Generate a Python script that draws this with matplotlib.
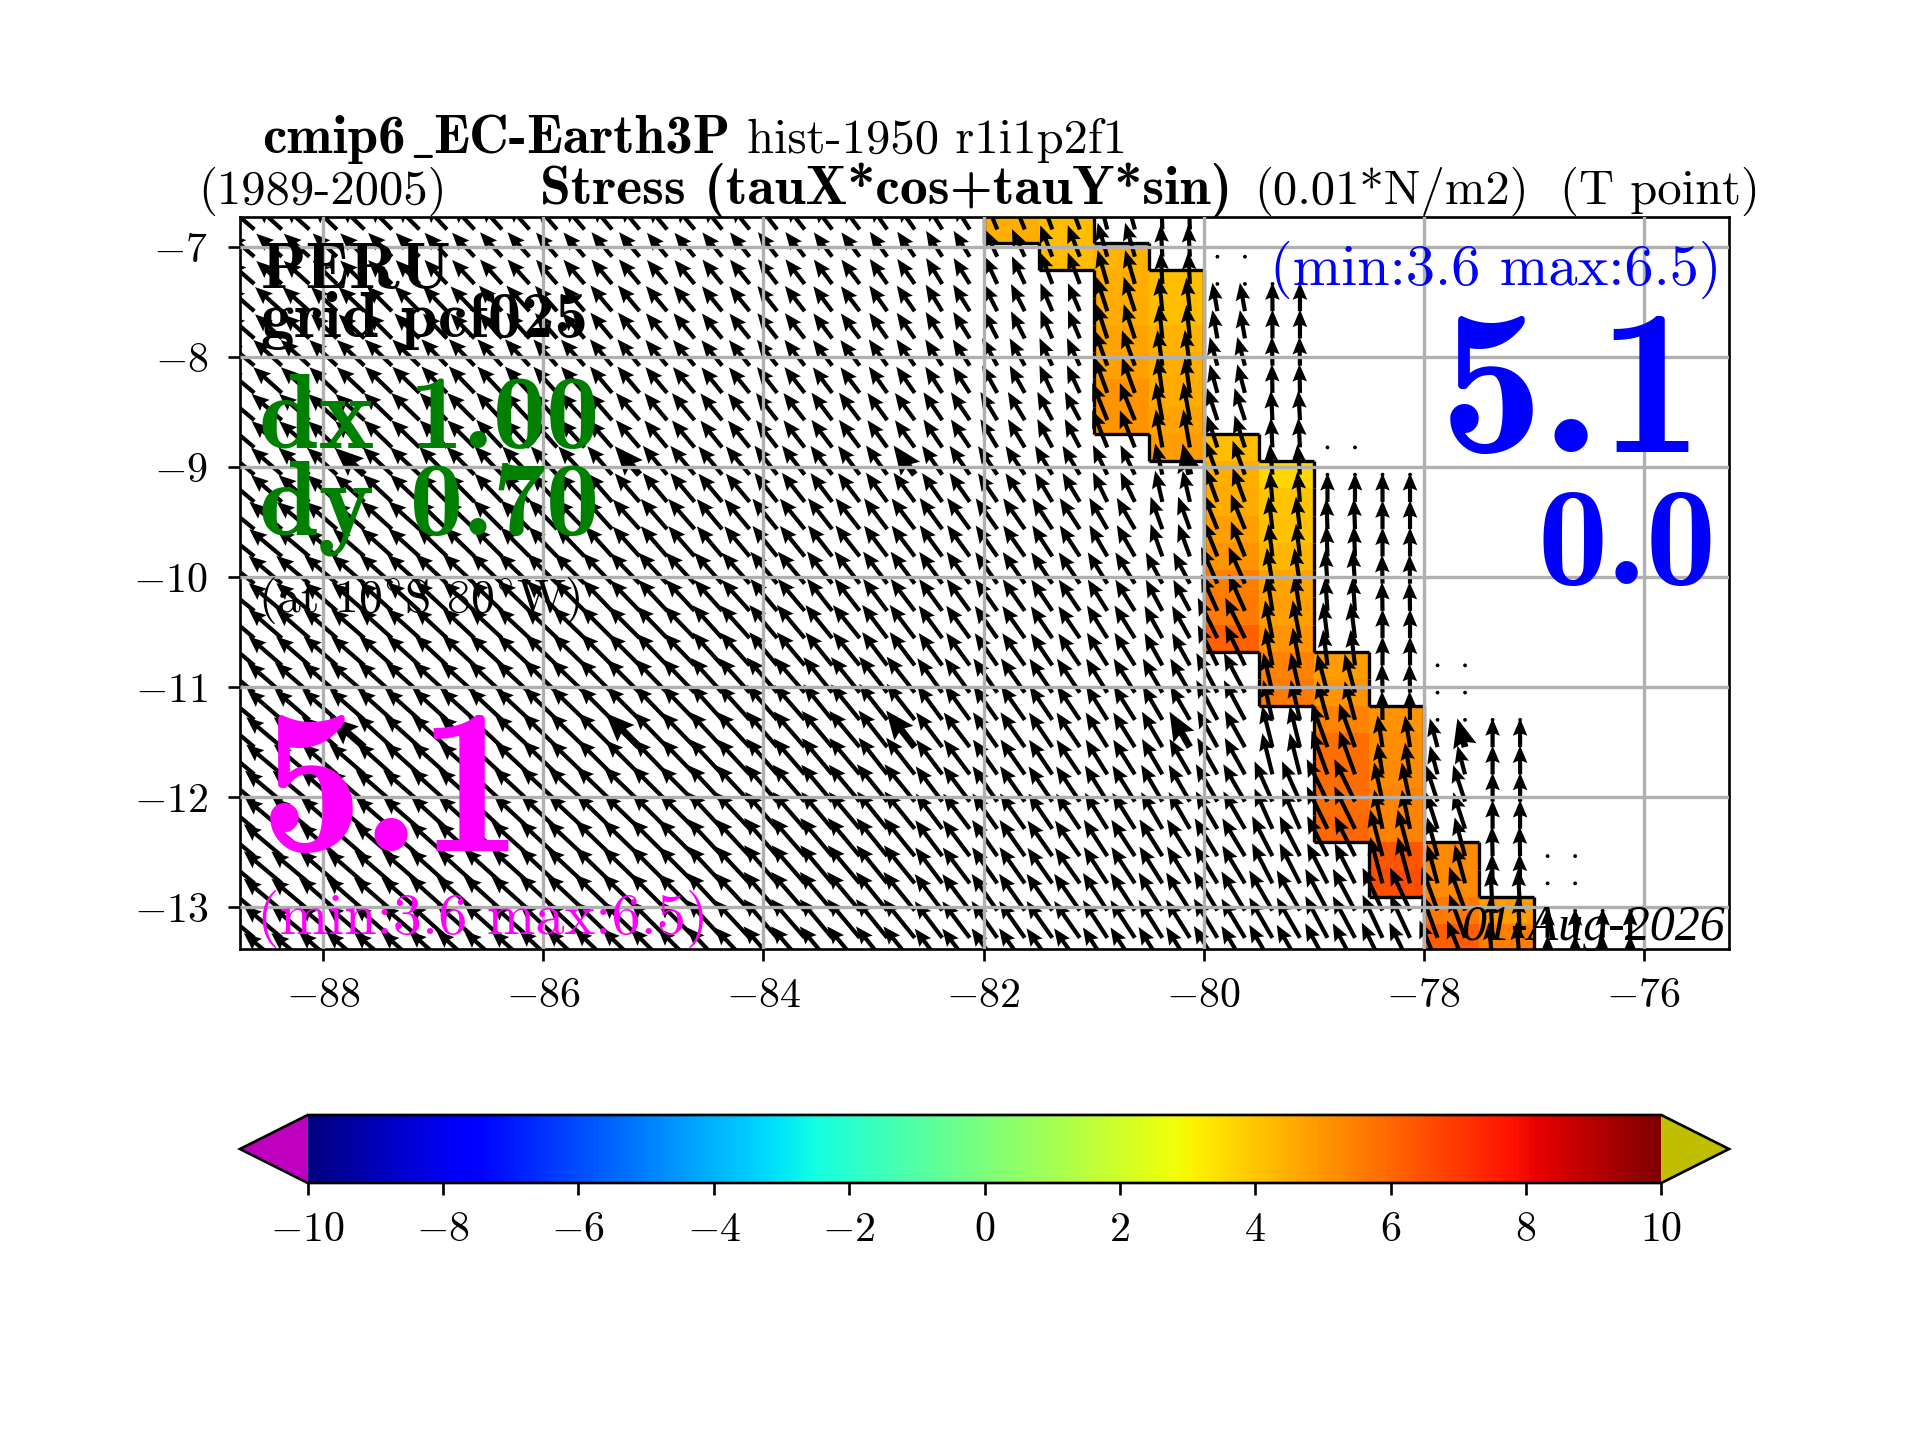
import numpy as np
import matplotlib
matplotlib.use("Agg")
import matplotlib.pyplot as plt
from matplotlib.collections import LineCollection
from matplotlib.cm import ScalarMappable
from matplotlib.colors import Normalize

plt.rcParams['font.family'] = ['cmr10', 'DejaVu Sans']
plt.rcParams['mathtext.fontset'] = 'cm'
plt.rcParams['axes.formatter.use_mathtext'] = True

# ---- data -----------------------------------------------------------------
block_lon = [-88.75 + 0.5 * b for b in range(26)]
lat_top = -6.964
lat_step = 0.2477

# wind stress direction (deg, counter-clockwise from east), per half-degree block and row pair
angle_table = [
 [139,138,136,135,133,132,131,130,130,129,128,127,125,122,112,110,105, 92, 90, 90, 90, 90, 90, 90, 90, 90],
 [139,138,136,135,133,132,131,130,130,129,128,127,125,122,115,111,106, 93, 97, 90, 90, 90, 90, 90, 90, 90],
 [139,138,137,135,134,132,131,130,130,129,128,127,125,122,117,113,108, 96,100, 90, 90, 90, 90, 90, 90, 90],
 [140,138,137,136,134,133,132,130,130,129,128,127,125,123,119,115,110, 98,105, 91, 90, 90, 90, 90, 90, 90],
 [140,139,138,136,135,133,132,131,130,129,128,127,126,124,121,118,112,100,108, 93, 90, 90, 90, 90, 90, 90],
 [140,139,138,137,135,134,133,131,130,130,128,127,126,125,124,121,116,103,110, 95, 90, 90, 90, 90, 90, 90],
 [141,140,139,138,136,135,134,132,131,130,129,128,127,126,125,123,120,110,112, 97, 92, 90, 90, 90, 90, 90],
 [141,140,139,138,137,136,135,134,133,132,130,128,127,126,125,124,122,118,114, 99, 94, 91, 90, 90, 90, 90],
 [140,139,139,138,137,137,136,135,134,132,130,129,127,126,125,124,122,119,116,101, 97, 90, 90, 90, 90, 90],
 [140,139,139,138,138,137,136,135,134,132,131,129,128,126,125,124,122,120,118,103,105, 91,100, 90, 90, 90],
 [140,140,139,138,138,137,136,135,134,133,131,130,128,127,125,124,122,120,119,104,110, 99,105, 90, 90, 90],
 [140,140,139,139,138,137,137,136,135,133,131,130,129,127,125,124,122,120,120,114,116,102,108, 90, 90, 90],
 [140,140,139,139,138,138,137,136,135,133,131,130,129,127,125,125,123,122,121,117,117,105,105, 91, 90, 90],
 [140,140,139,139,138,138,137,136,135,133,131,130,129,127,125,125,123,122,121,120,118,115,110, 93, 90, 90],
 [140,140,139,139,138,138,137,136,135,133,131,130,129,127,125,125,123,122,121,120,118,116,112, 95, 90, 90],
]
speed_table = [
 [4.3,4.3,4.2,4.2,4.1,4.1,4.0,4.0,3.9,3.9,3.9,3.8,3.8,3.8,4.4,4.2,4.2,3.6,0.0,0.0,0.0,0.0,0.0,0.0,0.0,0.0],
 [4.3,4.3,4.2,4.2,4.1,4.1,4.0,4.0,3.9,3.9,3.9,3.8,3.8,3.8,3.8,4.2,4.4,4.0,3.6,3.6,3.6,3.6,3.6,3.6,3.6,3.6],
 [4.5,4.5,4.4,4.4,4.3,4.3,4.2,4.2,4.1,4.0,4.0,3.9,3.9,3.9,3.8,3.8,4.5,4.2,3.6,3.6,3.6,3.6,3.6,3.6,3.6,3.6],
 [4.8,4.8,4.7,4.7,4.6,4.5,4.4,4.3,4.2,4.1,4.1,4.0,4.0,3.9,3.9,3.8,4.7,4.5,3.7,3.6,3.6,3.6,3.6,3.6,3.6,3.6],
 [5.0,5.0,4.9,4.9,4.8,4.7,4.6,4.5,4.4,4.3,4.3,4.3,4.2,4.2,4.1,4.0,5.0,4.8,4.2,3.7,3.6,3.6,3.6,3.6,3.6,3.6],
 [5.1,5.1,5.0,5.0,4.9,4.9,4.8,4.7,4.7,4.6,4.6,4.5,4.5,4.4,4.3,4.2,4.1,4.0,4.5,3.8,3.6,3.6,3.6,3.6,3.6,3.6],
 [5.3,5.3,5.2,5.2,5.2,5.1,5.1,5.0,5.0,4.9,4.9,4.9,4.8,4.8,4.7,4.6,4.5,4.3,4.7,4.1,3.8,3.6,3.6,3.6,3.6,3.6],
 [5.4,5.4,5.4,5.4,5.4,5.4,5.3,5.3,5.3,5.2,5.2,5.1,5.0,4.9,4.8,4.7,4.6,4.4,5.0,4.5,4.2,3.6,3.6,3.6,3.6,3.6],
 [5.5,5.5,5.5,5.5,5.5,5.5,5.5,5.5,5.5,5.5,5.4,5.3,5.2,5.0,4.9,4.8,4.8,4.6,5.6,4.8,4.5,3.6,3.6,3.6,3.6,3.6],
 [5.7,5.7,5.7,5.7,5.7,5.7,5.8,5.8,5.8,5.8,5.8,5.7,5.7,5.3,5.2,5.1,5.0,4.9,5.6,5.1,5.0,3.6,3.6,3.6,3.6,3.6],
 [5.8,5.8,5.8,5.9,5.9,5.9,6.0,6.0,6.0,6.0,5.9,5.9,5.8,5.4,5.3,5.2,5.1,5.1,5.2,5.3,5.8,4.0,3.7,3.6,3.6,3.6],
 [6.0,6.0,6.0,6.0,6.1,6.1,6.2,6.2,6.2,6.2,6.1,6.0,6.0,5.5,5.4,5.3,5.3,5.3,5.4,5.5,5.9,5.0,4.8,3.6,3.6,3.6],
 [6.1,6.2,6.2,6.2,6.3,6.4,6.4,6.4,6.4,6.3,6.3,6.2,6.1,5.6,5.5,5.4,5.4,5.4,5.5,5.6,5.6,6.0,5.0,3.7,3.6,3.6],
 [6.2,6.2,6.3,6.3,6.4,6.4,6.5,6.5,6.5,6.4,6.4,6.3,6.2,5.7,5.6,5.6,5.6,5.6,5.7,5.8,5.9,5.9,5.8,5.2,3.7,3.7],
 [6.2,6.2,6.3,6.3,6.4,6.4,6.5,6.5,6.5,6.4,6.4,6.3,6.2,5.7,5.6,5.6,5.6,5.6,5.7,5.8,5.9,5.9,6.0,5.4,3.7,3.7],
]
# land blocks: first row with a non-zero arrow, and the rows with a zero vector
first_arrow_row = {18: 2, 19: 2, 20: 9, 21: 9, 22: 18, 23: 18, 24: 25, 25: 25}
zero_rows = {18: [0, 1], 19: [1], 20: [7, 8], 21: [8], 22: [15, 16, 17], 23: [17], 24: [22, 23, 24], 25: [24]}

# shaded stress: block -> (first row, values per row)
cell_values = {
 14: (-1, [4.5]),
 15: (-1, [4.2, 4.2]),
 16: (0, [4.4, 4.5, 4.6, 4.7, 4.8, 5.0, 5.0]),
 17: (1, [4.2, 4.2, 4.4, 4.5, 4.6, 4.7, 4.9]),
 18: (7, [4.2, 4.5, 4.6, 4.8, 5.0, 5.5, 5.6, 6.1]),
 19: (8, [3.6, 4.0, 4.1, 4.3, 4.7, 4.8, 5.0, 5.4, 5.6]),
 20: (15, [4.9, 5.0, 5.4, 5.8, 5.9, 5.9, 6.0]),
 21: (17, [5.0, 5.2, 5.3, 5.4, 5.4, 6.4, 6.5]),
 22: (22, [5.3, 5.3, 5.6, 6.2, 6.2]),
 23: (24, [4.9, 5.5, 5.5]),
}
x_ticks = [-88, -86, -84, -82, -80, -78, -76]
y_ticks = [-7, -8, -9, -10, -11, -12, -13]
cbar_ticks = list(range(-10, 11, 2))

# ---- figure ---------------------------------------------------------------
W, H = 1920, 1440
fig = plt.figure(figsize=(8, 6), dpi=240)
ax = fig.add_axes([240 / W, 1 - 949 / H, (1729 - 240) / W, (949 - 217) / H])
ax.set_xlim(-88.755, -75.227)
ax.set_ylim(-13.382, -6.727)

rows = np.arange(-1, 27)
lat_edges = lat_top - lat_step * np.arange(-1, 28)
lon_edges = np.array([-89 + 0.5 * b for b in range(27)])

field = np.full((len(rows), 26), np.nan)
for b, (k0, vals) in cell_values.items():
    for n, v in enumerate(vals):
        field[k0 + n + 1, b] = v
norm = Normalize(-10, 10)
cmap = plt.get_cmap('jet').with_extremes(under=(0.75, 0, 0.75), over=(0.75, 0.75, 0))
ax.pcolormesh(lon_edges, lat_edges, np.ma.masked_invalid(field), cmap=cmap, norm=norm, zorder=0.5)

# outline of the shaded cells
mask = np.isfinite(field)
segs = []
for r in range(mask.shape[0]):
    for b in range(mask.shape[1]):
        if not mask[r, b]:
            continue
        if r == 0 or not mask[r - 1, b]:
            segs.append([(lon_edges[b], lat_edges[r]), (lon_edges[b + 1], lat_edges[r])])
        if r == mask.shape[0] - 1 or not mask[r + 1, b]:
            segs.append([(lon_edges[b], lat_edges[r + 1]), (lon_edges[b + 1], lat_edges[r + 1])])
        if b == 0 or not mask[r, b - 1]:
            segs.append([(lon_edges[b], lat_edges[r]), (lon_edges[b], lat_edges[r + 1])])
        if b == mask.shape[1] - 1 or not mask[r, b + 1]:
            segs.append([(lon_edges[b + 1], lat_edges[r]), (lon_edges[b + 1], lat_edges[r + 1])])
ax.add_collection(LineCollection(segs, colors='k', linewidths=1.0, zorder=1.5))

# vectors on the quarter-degree grid
xs, ys, us, vs, big = [], [], [], [], []
for k in rows:
    j = (k + 2) // 2
    y = lat_top - lat_step * (k + 0.5)
    for b in range(26):
        if b in first_arrow_row and k < first_arrow_row[b]:
            if k not in zero_rows[b]:
                continue
            spd = 0.0
        else:
            spd = speed_table[j][b]
        a = np.deg2rad(angle_table[j][b])
        for sub in (-0.125, 0.125):
            x = block_lon[b] + sub
            xs.append(x); ys.append(y)
            us.append(spd * np.cos(a)); vs.append(spd * np.sin(a))
            col = int(round((x + 88.625) / 0.25))
            big.append(k in (8, 18) and col % 10 == 4 and spd > 0)
xs, ys, us, vs, big = map(np.array, (xs, ys, us, vs, big))
ax.quiver(xs[~big], ys[~big], us[~big], vs[~big], angles='uv', scale_units='width', scale=186,
          width=0.0028, headwidth=3.5, headlength=4.2, headaxislength=3.7, color='k', zorder=1)
ax.quiver(xs[big], ys[big], us[big], vs[big], angles='uv', scale_units='width', scale=186,
          width=0.0046, headwidth=3.5, headlength=4.2, headaxislength=3.7, color='k', zorder=1)

ax.set_xticks(x_ticks, [f'$-{abs(t)}$' for t in x_ticks], fontsize=12.6)
ax.set_yticks(y_ticks, [f'$-{abs(t)}$' for t in y_ticks], fontsize=12.6)
ax.tick_params(axis='x', pad=5)
ax.tick_params(axis='y', pad=6)
ax.grid(True, color='#b0b0b0', linewidth=1.0)
ax.set_axisbelow(False)


def put(x, y, s, **kw):
    return fig.text(x / W, 1 - y / H, s, va='baseline', **kw)


BOLD = ['cmb10', 'DejaVu Sans']
put(262, 153, 'cmip6', family=BOLD, fontsize=16.5)
put(410, 153, r'$\mathbf{\_}$', fontsize=14)
put(433, 153, 'EC-Earth3P', family=BOLD, fontsize=16.5)
put(747, 153, 'hist-1950 r1i1p2f1', fontsize=14.6)
put(198, 204, '(1989-2005)', fontsize=14.6)
put(540, 204, 'Stress (tauX*cos+tauY*sin)', family=BOLD, fontsize=16.7)
put(1254, 204, '(0.01*N/m2)', fontsize=14.6)
put(1560, 204, '(T point)', fontsize=14.6)

put(261, 288, 'PERU', family=BOLD, fontsize=20)
put(261, 337, 'grid pcf025', family=BOLD, fontsize=20)
put(259, 448, 'dx 1.00', family=BOLD, fontsize=32, color='green')
put(259, 535, 'dy 0.70', family=BOLD, fontsize=32, color='green')
put(258, 612, r'(at 10$^{\circ}$S 80$^{\circ}$W)', fontsize=14.3)
put(392, 851, '5.1', family=BOLD, fontsize=62, color='magenta', ha='center')
put(257, 934, '(min:3.6 max:6.5)', fontsize=17.5, color='magenta')
put(1722, 285, '(min:3.6 max:6.5)', fontsize=17.5, color='blue', ha='right')
put(1572, 452, '5.1', family=BOLD, fontsize=62, color='blue', ha='center')
put(1627, 584, '0.0', family=BOLD, fontsize=42, color='blue', ha='center')
put(1725, 940, '01-Aug-2026', family='Liberation Serif', style='italic', fontsize=15, ha='right')

cax = fig.add_axes([240 / W, 1 - 1183 / H, (1729 - 240) / W, (1183 - 1115) / H])
sm = ScalarMappable(norm=norm, cmap=cmap)
cb = fig.colorbar(sm, cax=cax, orientation='horizontal', extend='both', ticks=cbar_ticks)
cb.ax.set_xticklabels([f'$-{abs(t)}$' if t < 0 else f'${t}$' for t in cbar_ticks], fontsize=12.6)
cb.ax.tick_params(axis='x', pad=5)

fig.savefig('out.png', dpi=240)
